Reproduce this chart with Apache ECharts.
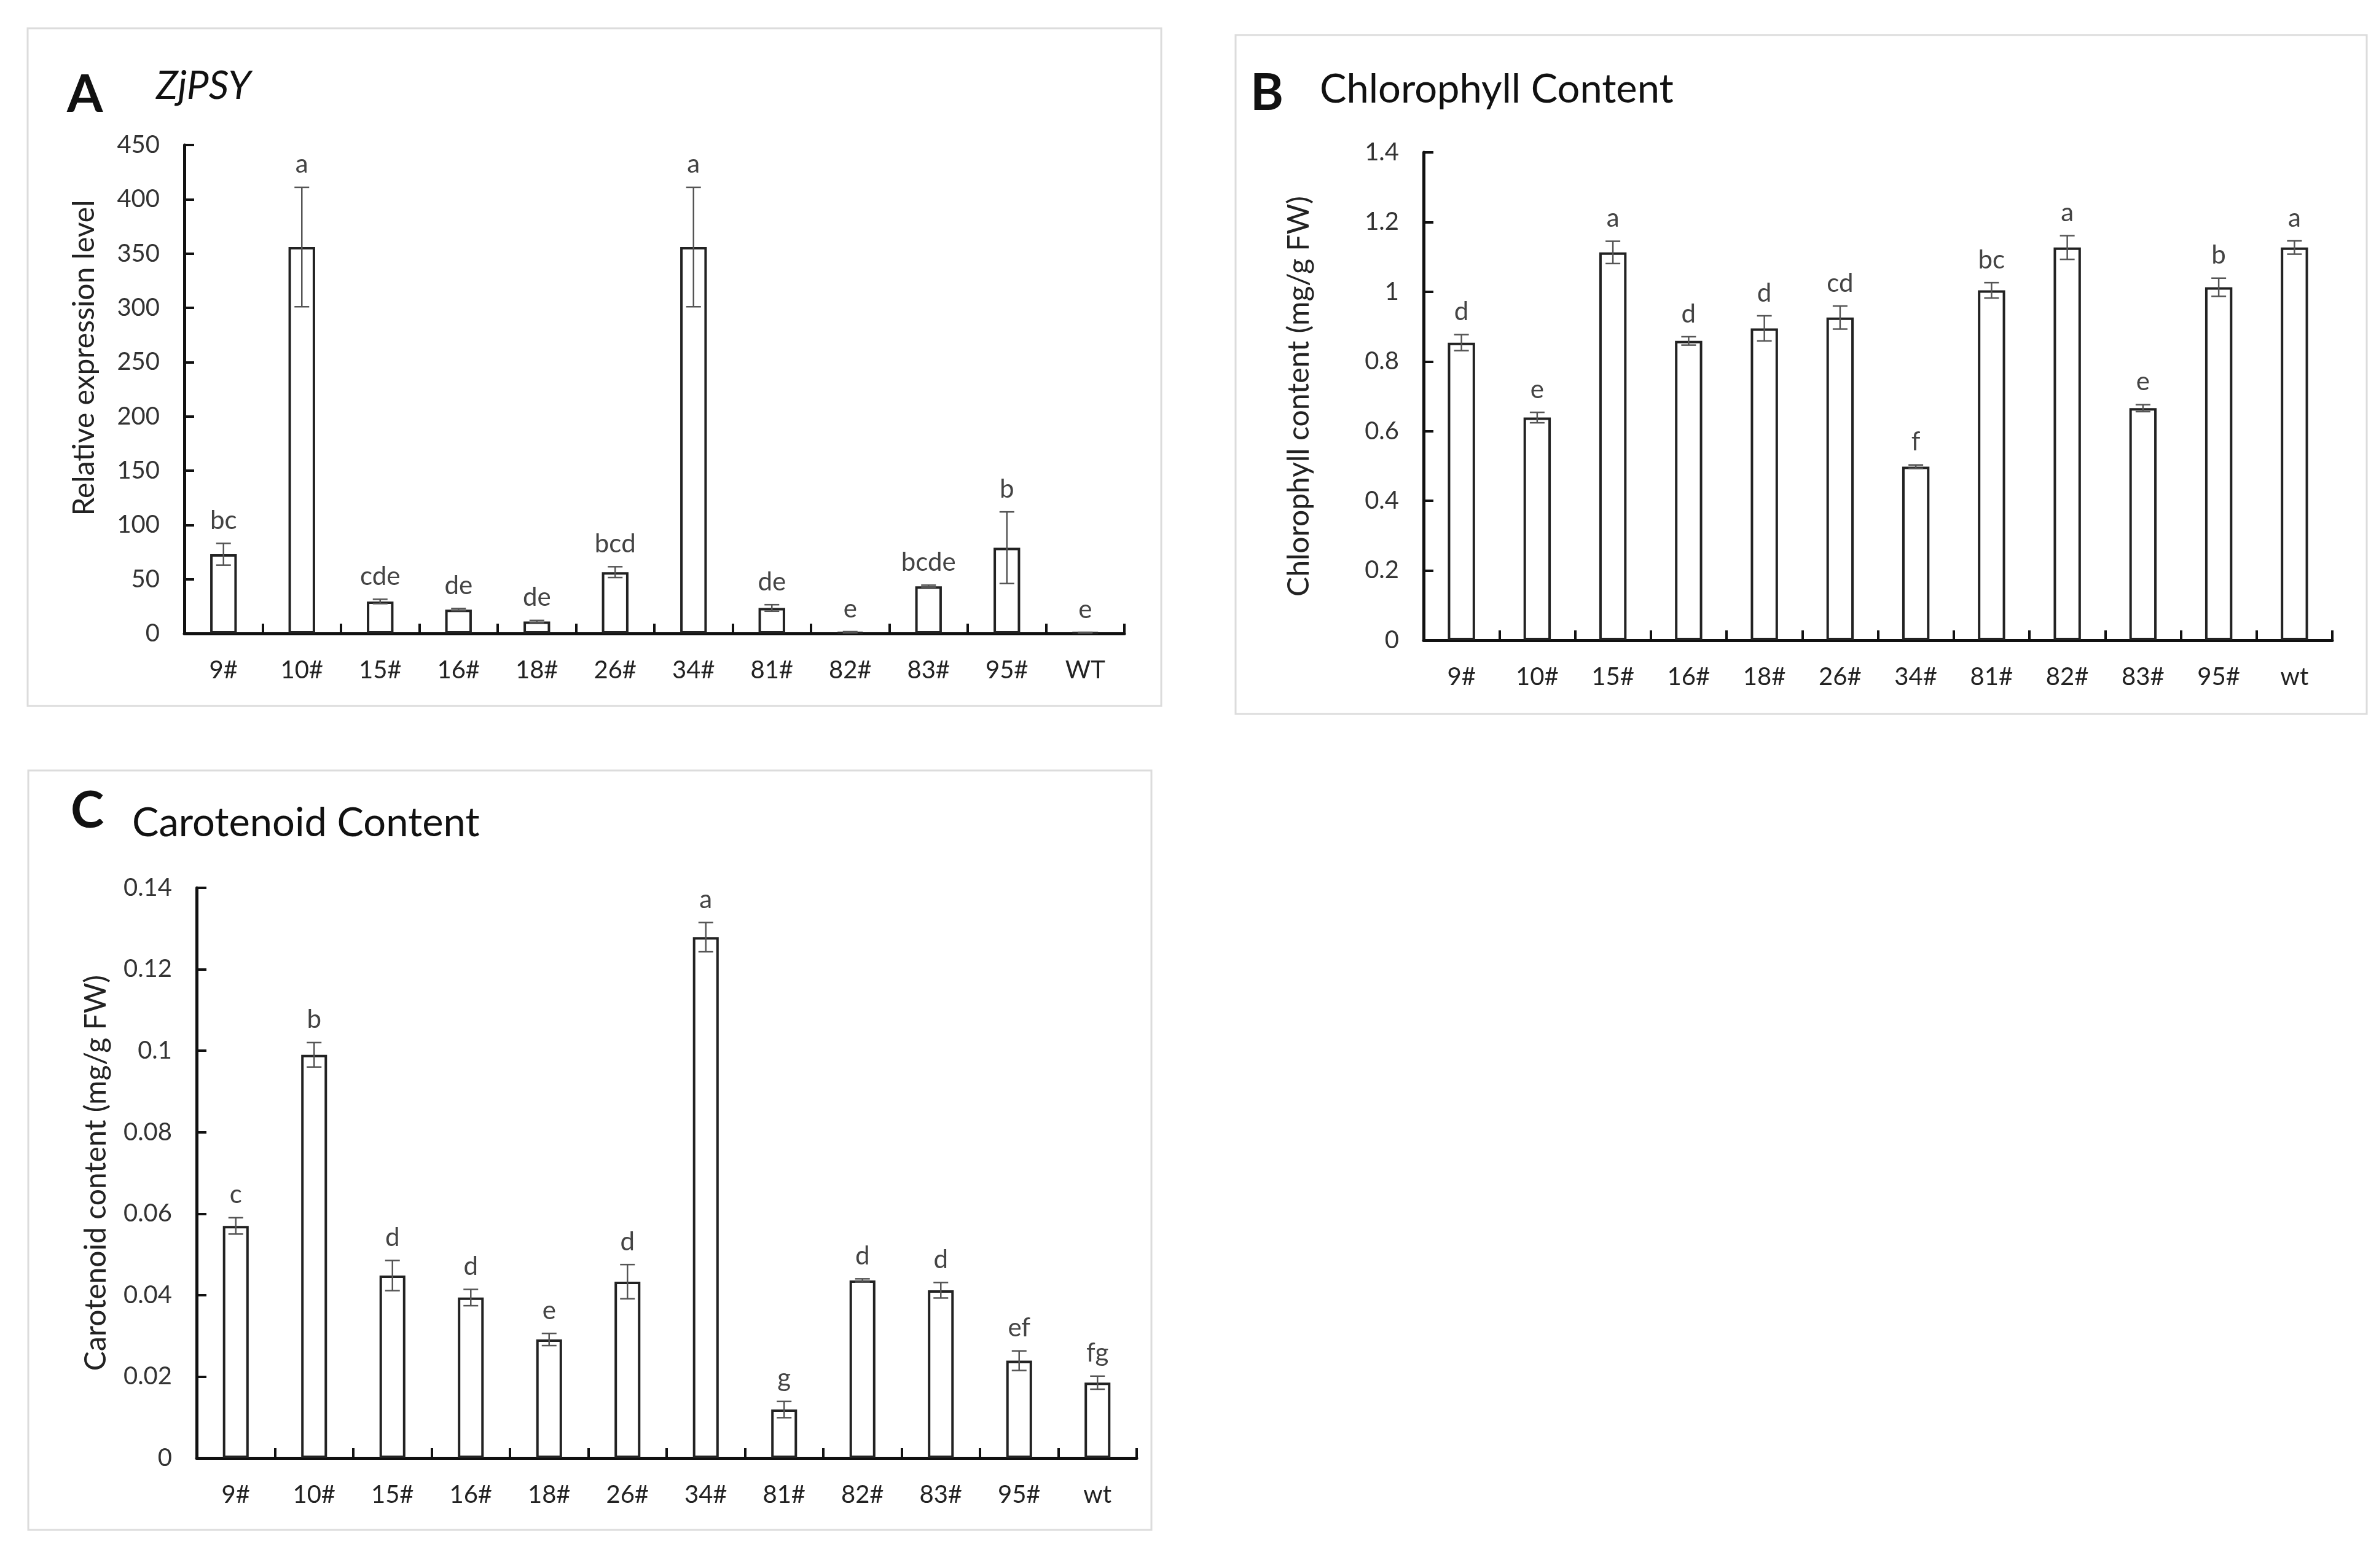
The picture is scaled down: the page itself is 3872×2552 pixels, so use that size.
<!DOCTYPE html>
<html>
<head>
<meta charset="utf-8">
<script src="https://cdn.jsdelivr.net/npm/echarts@6/dist/echarts.min.js"></script>
<style>
html,body{margin:0;padding:0;background:#fff;}
#chart{width:3872px;height:2552px;}
</style>
</head>
<body>
<div id="chart"></div>
<script>
// ---------- data ----------
const categoriesA = ['9#','10#','15#','16#','18#','26#','34#','81#','82#','83#','95#','WT'];
const categoriesBC = ['9#','10#','15#','16#','18#','26#','34#','81#','82#','83#','95#','wt'];

const expressionA    = [73, 356, 29.5, 22, 11, 56.5, 356, 23.5, 1.2, 43.5, 79, 0.8];
const expressionErrA = [10, 55, 2, 1, 1, 5, 55, 3, 0.5, 1, 33, 0.3];
const lettersA       = ['bc','a','cde','de','de','bcd','a','de','e','bcde','b','e'];

const chlorophyllB    = [0.854, 0.639, 1.113, 0.859, 0.895, 0.926, 0.498, 1.004, 1.127, 0.666, 1.013, 1.127];
const chlorophyllErrB = [0.023, 0.015, 0.032, 0.012, 0.036, 0.033, 0.005, 0.022, 0.034, 0.010, 0.026, 0.019];
const lettersB        = ['d','e','a','d','d','cd','f','bc','a','e','b','a'];

const carotenoidC    = [0.0570, 0.0990, 0.0448, 0.0394, 0.0291, 0.0433, 0.1279, 0.0119, 0.0436, 0.0412, 0.0239, 0.0185];
const carotenoidErrC = [0.0020, 0.0030, 0.0037, 0.0020, 0.0015, 0.0042, 0.0036, 0.0020, 0.0004, 0.0019, 0.0024, 0.0016];
const lettersC       = ['c','b','d','d','e','d','a','g','d','d','ef','fg'];

const yTicksA = {min: 0, max: 450, interval: 50};
const yTicksB = {min: 0, max: 1.4, interval: 0.2};
const yTicksC = {min: 0, max: 0.14, interval: 0.02};

// ---------- styling ----------
const FONT = 'Lato, "Open Sans", sans-serif';
const AXIS_COLOR = '#111';

function xAxisCfg(gridIndex, cats) {
  return {
    type: 'category', gridIndex: gridIndex, data: cats, boundaryGap: true,
    axisLine: {show: true, lineStyle: {color: AXIS_COLOR, width: 5}},
    axisTick: {show: true, inside: true, length: 16, lineStyle: {color: AXIS_COLOR, width: 4}},
    axisLabel: {color: '#222', fontSize: 40, fontFamily: FONT, margin: 40},
    splitLine: {show: false}
  };
}
function yAxisCfg(gridIndex, ticks, name, nameGap, padding) {
  return {
    type: 'value', gridIndex: gridIndex, min: ticks.min, max: ticks.max, interval: ticks.interval,
    name: name, nameLocation: 'middle', nameGap: nameGap, nameRotate: 90,
    nameTextStyle: {color: '#222', fontSize: 48, fontFamily: FONT, padding: padding},
    axisLine: {show: true, lineStyle: {color: AXIS_COLOR, width: 5}},
    axisTick: {show: true, inside: true, length: 16, lineStyle: {color: AXIS_COLOR, width: 4}},
    axisLabel: {color: '#333', fontSize: 40, fontFamily: FONT, margin: 40,
      formatter: function (v) { return String(+v.toFixed(3)); }},
    splitLine: {show: false}
  };
}
function barSeries(idx, values, width) {
  return {
    type: 'bar', xAxisIndex: idx, yAxisIndex: idx, data: values, barWidth: width,
    itemStyle: {color: '#fff', borderColor: '#222', borderWidth: 4},
    silent: true, z: 2
  };
}
function errSeries(idx, values, errs, letters) {
  return {
    type: 'custom', xAxisIndex: idx, yAxisIndex: idx, z: 5, silent: true,
    data: values.map(function (v, i) { return [i, v, errs[i]]; }),
    encode: {x: 0, y: 1},
    renderItem: function (params, api) {
      const i = api.value(0), v = api.value(1), e = api.value(2);
      const top = api.coord([i, v + e]);
      const bot = api.coord([i, Math.max(v - e, 0)]);
      const cw = 12;
      const ls = {stroke: '#555', lineWidth: 2.5};
      return {
        type: 'group',
        children: [
          {type: 'line', shape: {x1: top[0], y1: top[1], x2: bot[0], y2: bot[1]}, style: ls},
          {type: 'line', shape: {x1: top[0] - cw, y1: top[1], x2: top[0] + cw, y2: top[1]}, style: ls},
          {type: 'line', shape: {x1: bot[0] - cw, y1: bot[1], x2: bot[0] + cw, y2: bot[1]}, style: ls},
          {type: 'text', x: top[0], y: top[1] - 16,
           style: {text: letters[params.dataIndex], fill: '#444', font: '42px ' + FONT,
                   textAlign: 'center', textVerticalAlign: 'bottom'}}
        ]
      };
    }
  };
}
function panelBox(x1, y1, x2, y2) {
  return {type: 'rect', silent: true, z: -1,
    shape: {x: x1, y: y1, width: x2 - x1, height: y2 - y1},
    style: {fill: 'none', stroke: '#dcdcdc', lineWidth: 3}};
}
function label(text, x, y, size, weight, style) {
  return {type: 'text', x: x, y: y, silent: true,
    style: {text: text, fill: '#111', font: (style || 'normal') + ' ' + (weight || 'normal') + ' ' + size + 'px ' + FONT,
            textAlign: 'left', textVerticalAlign: 'middle'}};
}

const chart = echarts.init(document.getElementById('chart'), null, {renderer: 'canvas'});
chart.setOption({
  backgroundColor: '#fff',
  animation: false,
  grid: [
    {left: 300, right: 2042, top: 236, bottom: 1521, containLabel: false},
    {left: 2317, right: 76, top: 248, bottom: 1510, containLabel: false},
    {left: 320, right: 2022, top: 1445, bottom: 179, containLabel: false}
  ],
  xAxis: [xAxisCfg(0, categoriesA), xAxisCfg(1, categoriesBC), xAxisCfg(2, categoriesBC)],
  yAxis: [
    yAxisCfg(0, yTicksA, 'Relative expression level', 138, [0, 0, 0, 102]),
    yAxisCfg(1, yTicksB, 'Chlorophyll content (mg/g FW)', 178, 0),
    yAxisCfg(2, yTicksC, 'Carotenoid content (mg/g FW)', 139, 0)
  ],
  series: [
    barSeries(0, expressionA, '34%'),
    errSeries(0, expressionA, expressionErrA, lettersA),
    barSeries(1, chlorophyllB, '36%'),
    errSeries(1, chlorophyllB, chlorophyllErrB, lettersB),
    barSeries(2, carotenoidC, '33%'),
    errSeries(2, carotenoidC, carotenoidErrC, lettersC)
  ],
  graphic: [
    panelBox(45, 46, 1890, 1149),
    panelBox(2011, 57, 3852, 1162),
    panelBox(46, 1254, 1874, 2490),
    label('A', 109, 155, 84, 'bold'),
    label('ZjPSY', 254, 140, 64, 'normal', 'italic'),
    label('B', 2035, 153, 82, 'bold'),
    label('Chlorophyll Content', 2148, 146, 65),
    label('C', 115, 1321, 82, 'bold'),
    label('Carotenoid Content', 215, 1340, 65)
  ]
});
</script>
</body>
</html>
